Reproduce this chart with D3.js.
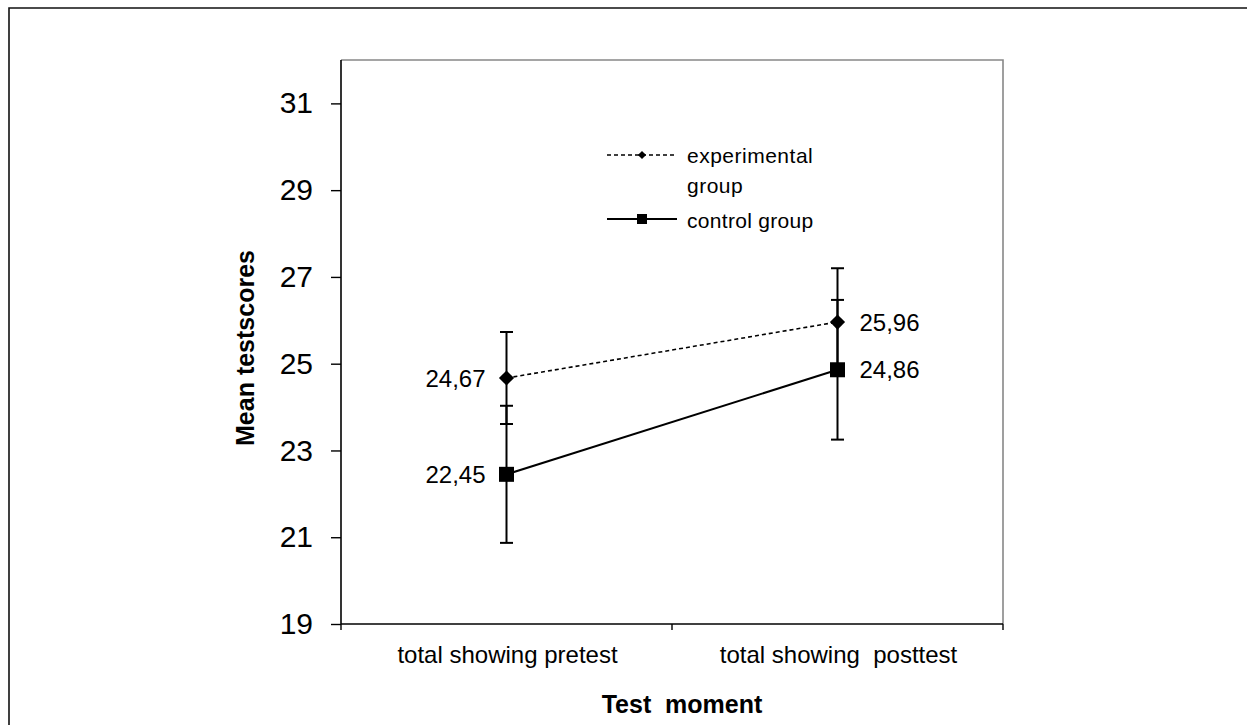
<!DOCTYPE html>
<html>
<head>
<meta charset="utf-8">
<script src="https://cdn.jsdelivr.net/npm/d3@7"></script>
<style>
  html, body { margin: 0; padding: 0; background: #fff; }
  svg { display: block; font-family: "Liberation Sans", Arial, sans-serif; }
  text { white-space: pre; }
</style>
</head>
<body>
<svg id="chart" width="1247" height="725"></svg>
<script>
// ---- data ----
const categories = ["total showing pretest", "total showing  posttest"];
const seriesNames = ["experimental group", "control group"];
const expMeans = [24.67, 25.96];
const expErrors = [1.06, 1.24];
const ctrlMeans = [22.45, 24.86];
const ctrlErrors = [1.58, 1.61];
const expLabels = ["24,67", "25,96"];
const ctrlLabels = ["22,45", "24,86"];
const yTicks = [19, 21, 23, 25, 27, 29, 31];
const yDomain = [19, 32];

// ---- layout ----
const svg = d3.select("#chart");
const plot = { left: 341, right: 1003, top: 60, bottom: 624 };

const x = d3.scaleBand().domain(categories).range([plot.left, plot.right]).padding(0);
const cx = c => x(c) + x.bandwidth() / 2;
const y = d3.scaleLinear().domain(yDomain).range([plot.bottom, plot.top]);

// outer frame
svg.append("path")
  .attr("d", `M9,760 L9,8 L1260,8`)
  .attr("fill", "none").attr("stroke", "#111").attr("stroke-width", 1.6);

// plot frame (top & right grey)
svg.append("path")
  .attr("d", `M${plot.left},${plot.top} L${plot.right},${plot.top} L${plot.right},${plot.bottom}`)
  .attr("fill", "none").attr("stroke", "#888").attr("stroke-width", 1.6);

// y axis
const yAxis = svg.append("g")
  .attr("transform", `translate(${plot.left},0)`)
  .call(d3.axisLeft(y).tickValues(yTicks).tickSize(10).tickPadding(18).tickFormat(d3.format("d")));
yAxis.select(".domain").attr("stroke", "#000").attr("stroke-width", 1.6)
  .attr("d", `M0,${plot.top}V${plot.bottom}`);
yAxis.selectAll(".tick line").attr("stroke", "#000").attr("stroke-width", 1.4);
yAxis.selectAll(".tick text").attr("font-size", 30).attr("fill", "#000")
  .attr("font-family", "Liberation Sans, Arial, sans-serif");

// x axis
const xAxisG = svg.append("g");
xAxisG.append("line")
  .attr("x1", plot.left).attr("x2", plot.right)
  .attr("y1", plot.bottom).attr("y2", plot.bottom)
  .attr("stroke", "#000").attr("stroke-width", 1.6);
const boundaries = categories.map(c => x(c)).concat([x(categories[categories.length - 1]) + x.bandwidth()]);
xAxisG.selectAll("line.xt").data(boundaries).join("line")
  .attr("class", "xt")
  .attr("x1", d => d).attr("x2", d => d)
  .attr("y1", plot.bottom).attr("y2", plot.bottom + 6)
  .attr("stroke", "#000").attr("stroke-width", 1.4);
xAxisG.selectAll("text.xl").data(categories).join("text")
  .attr("class", "xl")
  .attr("x", d => cx(d) + 1).attr("y", plot.bottom + 39)
  .attr("text-anchor", "middle").attr("font-size", 24).attr("fill", "#000")
  .text(d => d);

// axis titles
svg.append("text")
  .attr("x", 682).attr("y", 713)
  .attr("text-anchor", "middle").attr("font-size", 25).attr("font-weight", "bold")
  .text("Test  moment");
svg.append("text")
  .attr("transform", `translate(254,${(plot.top + plot.bottom) / 2 + 6}) rotate(-90)`)
  .attr("text-anchor", "middle").attr("font-size", 25).attr("font-weight", "bold")
  .text("Mean testscores");

// error bars
function errorBars(means, errs, cls) {
  const g = svg.append("g").attr("class", cls);
  const cap = 6.5;
  categories.forEach((c, i) => {
    const xc = cx(c);
    const yt = y(means[i] + errs[i]), yb = y(means[i] - errs[i]);
    g.append("line").attr("x1", xc).attr("x2", xc).attr("y1", yt).attr("y2", yb)
      .attr("stroke", "#000").attr("stroke-width", 2);
    [yt, yb].forEach(v => g.append("line")
      .attr("x1", xc - cap).attr("x2", xc + cap).attr("y1", v).attr("y2", v)
      .attr("stroke", "#000").attr("stroke-width", 2));
  });
}
errorBars(ctrlMeans, ctrlErrors, "err-ctrl");
errorBars(expMeans, expErrors, "err-exp");

// lines
const line = d3.line().x((d, i) => cx(categories[i])).y(d => y(d));
svg.append("path").datum(expMeans).attr("d", line)
  .attr("fill", "none").attr("stroke", "#000").attr("stroke-width", 1.6)
  .attr("stroke-dasharray", "4,3");
svg.append("path").datum(ctrlMeans).attr("d", line)
  .attr("fill", "none").attr("stroke", "#000").attr("stroke-width", 2);

// markers
const diamond = d3.symbol().type(d3.symbolSquare).size(115);
svg.selectAll("path.exp-pt").data(expMeans).join("path")
  .attr("class", "exp-pt")
  .attr("transform", (d, i) => `translate(${cx(categories[i])},${y(d)}) rotate(45)`)
  .attr("d", diamond).attr("fill", "#000");
const sq = 15;
svg.selectAll("rect.ctrl-pt").data(ctrlMeans).join("rect")
  .attr("class", "ctrl-pt")
  .attr("x", (d, i) => cx(categories[i]) - sq / 2).attr("y", d => y(d) - sq / 2)
  .attr("width", sq).attr("height", sq).attr("fill", "#000");

// value labels
function valueLabels(means, labels) {
  svg.selectAll(null).data(means).join("text")
    .attr("x", (d, i) => i === 0 ? cx(categories[i]) - 21 : cx(categories[i]) + 22)
    .attr("y", d => y(d) + 8.5)
    .attr("text-anchor", (d, i) => i === 0 ? "end" : "start")
    .attr("font-size", 24).attr("fill", "#000")
    .text((d, i) => labels[i]);
}
valueLabels(expMeans, expLabels);
valueLabels(ctrlMeans, ctrlLabels);

// legend
const lg = svg.append("g");
const lx1 = 607, lx2 = 677, lmid = 642;
lg.append("line").attr("x1", lx1).attr("x2", lx2).attr("y1", 155).attr("y2", 155)
  .attr("stroke", "#000").attr("stroke-width", 1.4).attr("stroke-dasharray", "4,3");
lg.append("path").attr("d", d3.symbol().type(d3.symbolSquare).size(34))
  .attr("transform", `translate(${lmid},155) rotate(45)`).attr("fill", "#000");
lg.append("line").attr("x1", lx1).attr("x2", lx2).attr("y1", 219).attr("y2", 219)
  .attr("stroke", "#000").attr("stroke-width", 1.8);
lg.append("rect").attr("x", lmid - 5).attr("y", 214).attr("width", 10).attr("height", 10).attr("fill", "#000");
const legText = lg.append("text").attr("font-size", 21).attr("fill", "#000").attr("letter-spacing", 0.5);
legText.append("tspan").attr("x", 687).attr("y", 163).text("experimental");
legText.append("tspan").attr("x", 687).attr("y", 193).text("group");
lg.append("text").attr("x", 687).attr("y", 228).attr("font-size", 21).attr("fill", "#000")
  .attr("letter-spacing", 0.3).text("control group");
</script>
</body>
</html>
